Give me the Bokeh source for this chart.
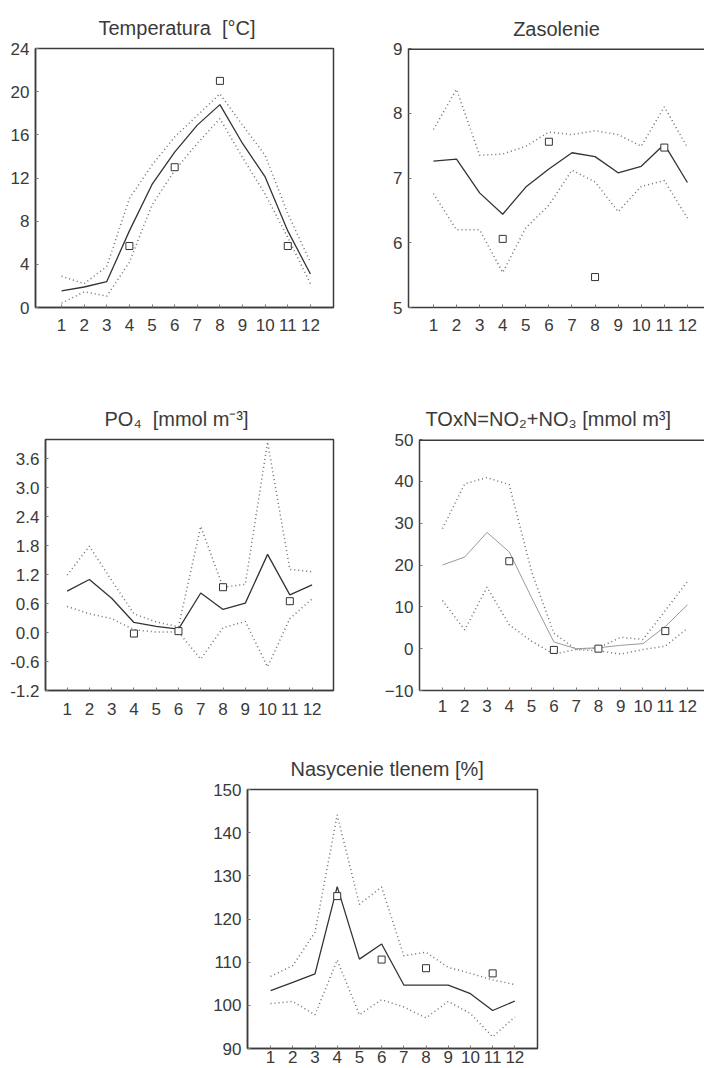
from bokeh.plotting import figure
from bokeh.models import Range1d, FixedTicker, Spacer, PrintfTickFormatter, Span
from bokeh.layouts import column, row
from bokeh.embed import file_html
from bokeh.resources import INLINE

months = [1, 2, 3, 4, 5, 6, 7, 8, 9, 10, 11, 12]
obs_months = [4, 6, 8, 11]

temp_mean = [1.55, 1.9, 2.4, 7.1, 11.4, 14.4, 16.9, 18.8, 15.2, 12.1, 7.1, 3.1]
temp_upper = [2.9, 2.2, 3.8, 10.1, 13.2, 15.8, 17.8, 19.8, 16.9, 14.1, 8.7, 4.2]
temp_lower = [0.4, 1.45, 1.05, 4.2, 9.5, 12.7, 15.2, 17.5, 13.9, 10.5, 6.5, 2.2]
temp_obs = [5.7, 13.0, 21.0, 5.7]

sal_mean = [7.26, 7.29, 6.77, 6.44, 6.86, 7.14, 7.39, 7.33, 7.08, 7.18, 7.52, 6.93]
sal_upper = [7.75, 8.37, 7.35, 7.37, 7.49, 7.71, 7.67, 7.73, 7.67, 7.49, 8.1, 7.47]
sal_lower = [6.76, 6.2, 6.2, 5.54, 6.23, 6.58, 7.12, 6.94, 6.48, 6.87, 6.96, 6.38]
sal_obs = [6.06, 7.56, 5.47, 7.47]

po4_mean = [0.86, 1.10, 0.71, 0.21, 0.13, 0.07, 0.82, 0.48, 0.61, 1.62, 0.78, 0.99]
po4_upper = [1.19, 1.79, 1.08, 0.39, 0.22, 0.12, 2.2, 0.94, 1.0, 3.95, 1.31, 1.26]
po4_lower = [0.54, 0.39, 0.29, 0.06, 0.01, 0.01, -0.55, 0.1, 0.23, -0.71, 0.29, 0.7]
po4_obs = [-0.02, 0.03, 0.94, 0.65]

toxn_mean = [20.0, 21.9, 27.8, 23.1, 12.2, 1.6, 0.0, 0.2, 0.8, 1.2, 5.3, 10.5]
toxn_upper = [28.7, 39.4, 40.9, 39.2, 18.4, 3.7, -0.2, 0.2, 2.7, 2.2, 9.1, 16.1]
toxn_lower = [11.5, 4.5, 14.7, 5.7, 1.8, -1.3, -0.2, -0.5, -1.3, -0.2, 0.6, 4.9]
toxn_obs = [20.9, -0.3, 0.0, 4.2]

oxy_mean = [103.4, 105.3, 107.3, 127.5, 110.7, 114.2, 104.7, 104.7, 104.7, 102.7, 98.8, 101.0]
oxy_upper = [106.7, 109.2, 116.9, 144.1, 123.4, 127.4, 111.5, 112.3, 108.8, 107.4, 105.9, 104.8]
oxy_lower = [100.4, 100.9, 97.8, 110.5, 97.8, 101.3, 99.6, 97.1, 100.9, 98.1, 92.7, 97.3]
oxy_obs = [125.3, 110.6, 108.6, 107.4]

FONT = "Liberation Sans"
TXT = "#3a3a3a"
FRAME = "#3c3c3c"


def make_panel(title, mean, upper, lower, obs, xr, yr, yticks, width, height,
               borders, title_offset, closed=True, mean_color="#333333",
               mean_width=1.3, yfmt=None, xstandoff=11, title_standoff=20):
    bl, br, bt, bb = borders
    p = figure(width=width, height=height, x_range=Range1d(*xr), y_range=Range1d(*yr),
               output_backend="svg", toolbar_location=None,
               min_border_left=bl, min_border_right=br, min_border_top=bt,
               min_border_bottom=bb)
    p.background_fill_color = "white"
    p.border_fill_color = "white"
    p.xgrid.visible = False
    p.ygrid.visible = False

    p.title.text = title
    p.title.text_font = FONT
    p.title.text_font_size = "20px"
    p.title.text_font_style = "normal"
    p.title.text_color = TXT
    if title_offset is None:
        p.title.align = "center"
    else:
        p.title.align = "left"
        p.title.offset = title_offset
    p.title.standoff = title_standoff

    for ax in (p.xaxis[0], p.yaxis[0]):
        ax.major_label_text_font = FONT
        ax.major_label_text_font_size = "17px"
        ax.major_label_text_color = TXT
        ax.major_tick_in = 3
        ax.major_tick_out = 0
        ax.minor_tick_line_color = None
        ax.axis_line_color = FRAME
        ax.axis_line_width = 1.5
        ax.major_tick_line_color = "#777777"
    p.xaxis[0].ticker = FixedTicker(ticks=months)
    p.xaxis[0].major_label_standoff = xstandoff
    p.yaxis[0].ticker = FixedTicker(ticks=yticks)
    p.yaxis[0].major_label_standoff = 6
    if yfmt:
        p.yaxis[0].formatter = PrintfTickFormatter(format=yfmt)

    if closed:
        p.outline_line_color = FRAME
        p.outline_line_width = 1.5
        p.outline_line_alpha = 1.0
    else:
        p.outline_line_color = None
        p.add_layout(Span(location=yr[1], dimension="width", line_color=FRAME,
                          line_width=3))

    p.line(months, upper, line_color="#707070", line_width=1.5, line_dash="1 3")
    p.line(months, lower, line_color="#707070", line_width=1.5, line_dash="1 3")
    p.line(months, mean, line_color=mean_color, line_width=mean_width)
    p.scatter(obs_months, obs, marker="square", size=7, fill_color="white",
              line_color="#333333", line_width=1)
    return p


f1 = make_panel("Temperatura\u00a0 [°C]", temp_mean, temp_upper, temp_lower, temp_obs,
                (-0.15, 13.02), (0, 24), [0, 4, 8, 12, 16, 20, 24], 360, 340,
                (35, 27, 48, 33), 63)
f2 = make_panel("Zasolenie", sal_mean, sal_upper, sal_lower, sal_obs,
                (-0.08, 12.74), (5, 9), [5, 6, 7, 8, 9], 344, 340,
                (48, 0, 44, 33), None, closed=False, title_standoff=17)
f3 = make_panel("PO₄\u00a0 [mmol m⁻³]", po4_mean, po4_upper, po4_lower, po4_obs,
                (0.03, 12.96), (-1.2, 4.0), [-1.2, -0.6, 0.0, 0.6, 1.2, 1.8, 2.4, 3.0, 3.6],
                360, 390, (45, 27, 99, 40), 59, yfmt="%.1f", xstandoff=12)
f4 = make_panel("TOxN=NO₂+NO₃ [mmol m³]", toxn_mean, toxn_upper, toxn_lower, toxn_obs,
                (-0.03, 12.76), (-10, 50), [-10, 0, 10, 20, 30, 40, 50], 344, 390,
                (59, 0, 99, 34), 6, closed=False, mean_color="#9a9a9a", mean_width=1.0,
                xstandoff=9)
f5 = make_panel("Nasycenie tlenem [%]", oxy_mean, oxy_upper, oxy_lower, oxy_obs,
                (-0.04, 13.02), (90, 150), [90, 100, 110, 120, 130, 140, 150], 367, 338,
                (47, 30, 59, 20), 43, xstandoff=2)

layout = column(row(f1, f2), row(f3, f4), row(Spacer(width=200, height=338), f5))

open("out.html", "w").write(file_html(layout, INLINE))
